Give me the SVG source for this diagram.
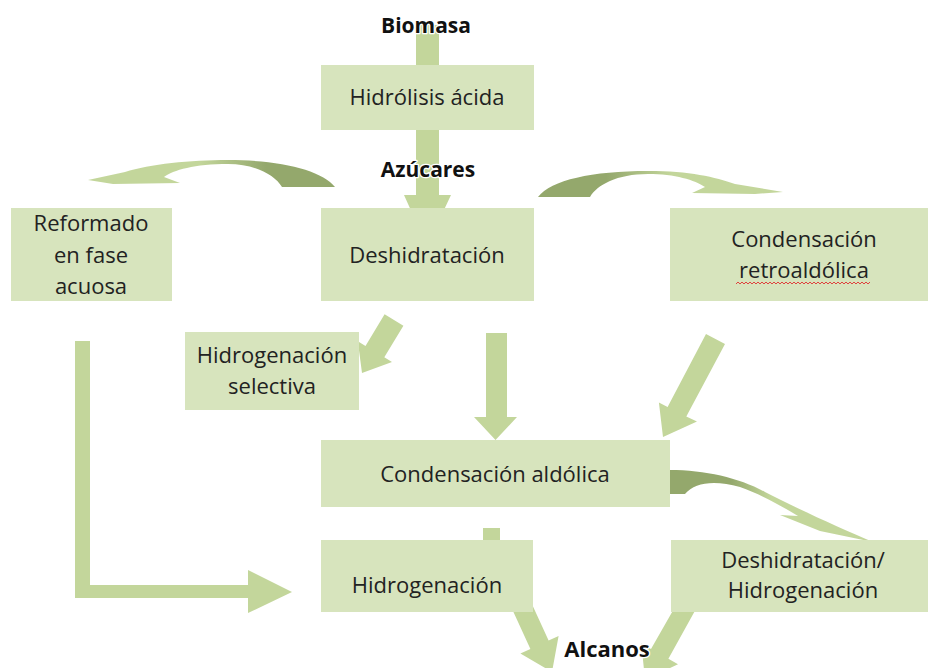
<svg xmlns="http://www.w3.org/2000/svg" width="928" height="668" viewBox="0 0 928 668">
<style>
.box{fill:#d7e4bd}
.arr{fill:#c3d69b}
.t{font-family:"Open Sans","Liberation Sans",sans-serif;font-size:22px;fill:#222;text-anchor:middle}
.b{font-family:"Open Sans","Liberation Sans",sans-serif;font-size:21px;font-weight:bold;fill:#111;text-anchor:middle;stroke:#fff;stroke-width:2.5;paint-order:stroke;stroke-linejoin:round}
</style>
<defs>
<linearGradient id="gL" gradientUnits="userSpaceOnUse" x1="88" y1="0" x2="335" y2="0">
<stop offset="0" stop-color="#c3d69b"/><stop offset="0.45" stop-color="#c3d69b"/><stop offset="0.72" stop-color="#94a86c"/><stop offset="1" stop-color="#94a86c"/>
</linearGradient>
<linearGradient id="gR" gradientUnits="userSpaceOnUse" x1="538" y1="0" x2="782" y2="0">
<stop offset="0" stop-color="#94a86c"/><stop offset="0.28" stop-color="#94a86c"/><stop offset="0.55" stop-color="#c3d69b"/><stop offset="1" stop-color="#c3d69b"/>
</linearGradient>
<linearGradient id="gD" gradientUnits="userSpaceOnUse" x1="670" y1="0" x2="873" y2="0">
<stop offset="0" stop-color="#94a86c"/><stop offset="0.3" stop-color="#94a86c"/><stop offset="0.5" stop-color="#c3d69b"/><stop offset="1" stop-color="#c3d69b"/>
</linearGradient>
<pattern id="wave" patternUnits="userSpaceOnUse" x="736" y="281" width="4" height="4">
<polyline points="0,3 2,1 4,3" fill="none" stroke="#e03030" stroke-width="0.9"/>
</pattern>
</defs>

<g id="connectors">
<!-- Biomasa -> Hidrolisis -> Deshidratacion -->
<polygon class="arr" points="416,25 439,25 439,195 451,195 427,246 404,195 416,195"/>
<!-- curved left to Reformado -->
<path fill="url(#gL)" d="M335 187 C322 170 280 160 228 160 C190 160 150 164 125 172 L88 180 L113 184 L180 183 L164 177 C173 170 195 164 228 164 C255 164 275 175 282 187 Z"/>
<!-- curved right to Condensacion retroaldolica -->
<path fill="url(#gR)" d="M538 197 C551 180 592 171 648 171 C690 171 715 177 735 184 L783 192 L755 194 L692 193 L705 187 C695 180 675 174 648 174 C617 174 597 185 590 197 Z"/>
<!-- Deshidratacion -> Hidrogenacion selectiva -->
<polygon class="arr" points="403.4,325.7 384.6,314.3 365.5,345.9 357.8,341.3 362,373 392,362 384.3,357.3"/>
<!-- Deshidratacion -> Condensacion aldolica -->
<polygon class="arr" points="486,333 507,333 507,417 517,417 495.5,440 474,417 486,417"/>
<!-- Condensacion retroaldolica -> Condensacion aldolica -->
<polygon class="arr" points="725,344 706,334 667.6,407 658.9,402.5 663,437 697,421.6 686.3,416.4"/>
<!-- Condensacion aldolica -> Hidrogenacion (stub) -->
<rect class="arr" x="483" y="528" width="17" height="16"/>
<!-- curved Condensacion aldolica -> Deshidratacion/Hidrogenacion -->
<path fill="url(#gD)" d="M670 470 C705 470 740 478 765 492 C800 510 840 528 873 542 L820 531 L780 515 L798 516 C780 505 760 494 740 487 C715 480 695 482 685 494 L670 494 Z"/>
<!-- L arrow Reformado -> Hidrogenacion -->
<polygon class="arr" points="75,341 90,341 90,585 248,585 248,570 292,592 248,613 248,598 75,598"/>
<!-- Hidrogenacion -> Alcanos -->
<polygon class="arr" points="528.1,595.8 509.9,604.2 530.4,648.9 520.4,653.5 552,672 558.6,635.9 548.6,640.5"/>
<!-- Deshidratacion/Hidrogenacion -> Alcanos -->
<polygon class="arr" points="698.3,604.7 681.7,595.3 651,649 641.4,643.6 645,680 678,664.2 668.4,658.8"/>
</g>

<g id="n-biomasa"><text class="b" x="426" y="33">Biomasa</text></g>
<g id="n-hidrolisis"><rect class="box" x="321" y="65" width="213" height="65"/><text class="t" x="427" y="105">Hidrólisis ácida</text></g>
<g id="n-azucares"><text class="b" x="428" y="177">Azúcares</text></g>
<g id="n-reformado"><rect class="box" x="11" y="208" width="161" height="93"/>
<text class="t" x="91" y="231">Reformado</text><text class="t" x="91" y="263">en fase</text><text class="t" x="91" y="294">acuosa</text></g>
<g id="n-deshidratacion"><rect class="box" x="321" y="208" width="213" height="93"/><text class="t" x="427" y="263">Deshidratación</text></g>
<g id="n-retroaldolica"><rect class="box" x="670" y="208" width="258" height="93"/>
<text class="t" x="804" y="247">Condensación</text><text class="t" x="804" y="278">retroaldólica</text>
<rect x="736" y="281" width="134" height="4" fill="url(#wave)"/></g>
<g id="n-hsel"><rect class="box" x="185" y="332" width="174" height="78"/>
<text class="t" x="272" y="363">Hidrogenación</text><text class="t" x="272" y="394">selectiva</text></g>
<g id="n-aldolica"><rect class="box" x="321" y="440" width="349" height="67"/><text class="t" x="495" y="482">Condensación aldólica</text></g>
<g id="n-hidrogenacion"><rect class="box" x="321" y="540" width="212" height="72"/><text class="t" x="427" y="593">Hidrogenación</text></g>
<g id="n-dh"><rect class="box" x="671" y="540" width="257" height="72"/>
<text class="t" x="803" y="568">Deshidratación/</text><text class="t" x="803" y="598">Hidrogenación</text></g>
<g id="n-alcanos"><text class="b" x="607" y="657" style="font-size:22px">Alcanos</text></g>
</svg>
